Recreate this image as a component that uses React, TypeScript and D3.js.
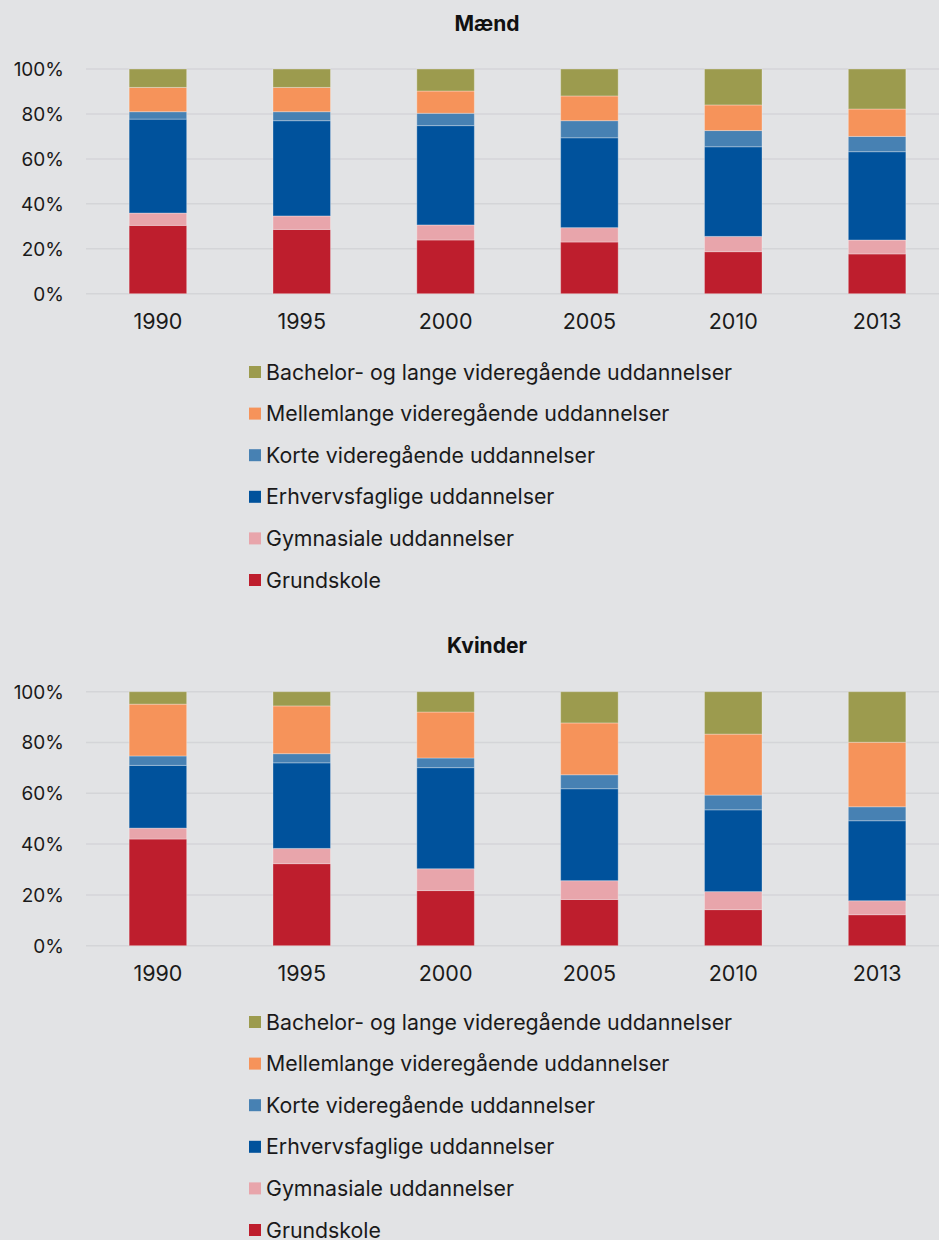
import React from "react";
import * as d3 from "d3";

const years = ["1990", "1995", "2000", "2005", "2010", "2013"];
const seriesNames = [
  "Grundskole",
  "Gymnasiale uddannelser",
  "Erhvervsfaglige uddannelser",
  "Korte videregående uddannelser",
  "Mellemlange videregående uddannelser",
  "Bachelor- og lange videregående uddannelser",
];
const seriesColors = ["#BE1E2D", "#E8A5AB", "#00529C", "#4781B3", "#F6935A", "#9C9B4E"];

// Mænd (share in %, bottom to top per year)
const maendGrundskole = [30.4, 28.6, 23.9, 23.0, 18.7, 17.7];
const maendGymnasiale = [5.5, 6.0, 6.7, 6.4, 6.8, 6.2];
const maendErhverv = [41.8, 42.4, 44.2, 40.0, 39.9, 39.3];
const maendKorte = [3.3, 4.0, 5.5, 7.6, 7.2, 6.8];
const maendMellem = [10.8, 10.8, 9.9, 11.0, 11.4, 12.2];
const maendBachelor = [8.2, 8.2, 9.8, 12.0, 16.0, 17.8];

// Kvinder
const kvinderGrundskole = [42.0, 32.3, 21.7, 18.2, 14.2, 12.2];
const kvinderGymnasiale = [4.3, 6.0, 8.6, 7.4, 7.1, 5.5];
const kvinderErhverv = [24.7, 33.7, 39.8, 36.2, 32.2, 31.5];
const kvinderKorte = [3.7, 3.6, 3.8, 5.5, 5.8, 5.5];
const kvinderMellem = [20.4, 18.8, 18.1, 20.4, 24.0, 25.4];
const kvinderBachelor = [4.9, 5.6, 8.0, 12.3, 16.7, 19.9];

const yTicks = [0, 20, 40, 60, 80, 100];

const FONT = "Inter, 'Noto Sans', sans-serif";
const BG = "#E2E3E5";

function buildRows(cols: number[][]) {
  return years.map((y, i) => {
    const row: any = { year: y };
    seriesNames.forEach((s, k) => (row[s] = cols[k][i]));
    return row;
  });
}

type ChartProps = {
  title: string;
  cols: number[][];
  top: number;
  plotTop: number;
  plotBottom: number;
  legendTop: number;
};

function Chart({ title, cols, top, plotTop, plotBottom, legendTop }: ChartProps) {
  const rows = buildRows(cols);
  const stack = d3.stack<any>().keys(seriesNames);
  const stacked = stack(rows);
  const x = d3.scaleBand<string>().domain(years).range([86, 949]).paddingInner(0.6).paddingOuter(0.3);
  const y = d3.scaleLinear().domain([0, 100]).range([plotBottom, plotTop]);
  const legendOrder = [...seriesNames.keys()].reverse();
  return (
    <g>
      <text x={487} y={top} textAnchor="middle" fontFamily={FONT} fontWeight={700} fontSize={21} fill="#111">
        {title}
      </text>
      {yTicks.map((t) => (
        <g key={t}>
          <line x1={86} x2={939} y1={y(t)} y2={y(t)} stroke="#D4D5D8" strokeWidth={1.5} />
          <text x={64} y={y(t)} dy="0.36em" textAnchor="end" fontFamily={FONT} fontSize={19} fill="#1a1a1a">
            {t}%
          </text>
        </g>
      ))}
      {stacked.map((layer, k) => (
        <g key={k} fill={seriesColors[k]}>
          {layer.map((d, i) => (
            <rect
              key={i}
              x={x(years[i])}
              width={x.bandwidth()}
              y={y(d[1])}
              height={y(d[0]) - y(d[1])}
              stroke="rgba(255,255,255,0.3)"
              strokeWidth={1}
            />
          ))}
        </g>
      ))}
      {years.map((yr) => (
        <text
          key={yr}
          x={(x(yr) as number) + x.bandwidth() / 2}
          y={plotBottom + 35}
          textAnchor="middle"
          fontFamily={FONT}
          fontSize={21.5}
          fill="#1a1a1a"
        >
          {yr}
        </text>
      ))}
      {legendOrder.map((k, i) => (
        <g key={k} transform={`translate(249, ${legendTop + i * 41.6})`}>
          <rect x={0} y={-6} width={12} height={12} fill={seriesColors[k]} />
          <text x={17} y={0} dy="0.36em" fontFamily={FONT} fontSize={21.3} fill="#1a1a1a">
            {seriesNames[k]}
          </text>
        </g>
      ))}
    </g>
  );
}

export default function App() {
  const maend = [maendGrundskole, maendGymnasiale, maendErhverv, maendKorte, maendMellem, maendBachelor];
  const kvinder = [kvinderGrundskole, kvinderGymnasiale, kvinderErhverv, kvinderKorte, kvinderMellem, kvinderBachelor];
  return (
    <svg
      width={939}
      height={1240}
      style={{ position: "absolute", left: 0, top: 0, background: BG, display: "block" }}
    >
      <rect width={939} height={1240} fill={BG} />
      <Chart title="Mænd" cols={maend} top={31} plotTop={69} plotBottom={293.7} legendTop={372} />
      <Chart title="Kvinder" cols={kvinder} top={653} plotTop={691.7} plotBottom={945.7} legendTop={1022} />
    </svg>
  );
}
